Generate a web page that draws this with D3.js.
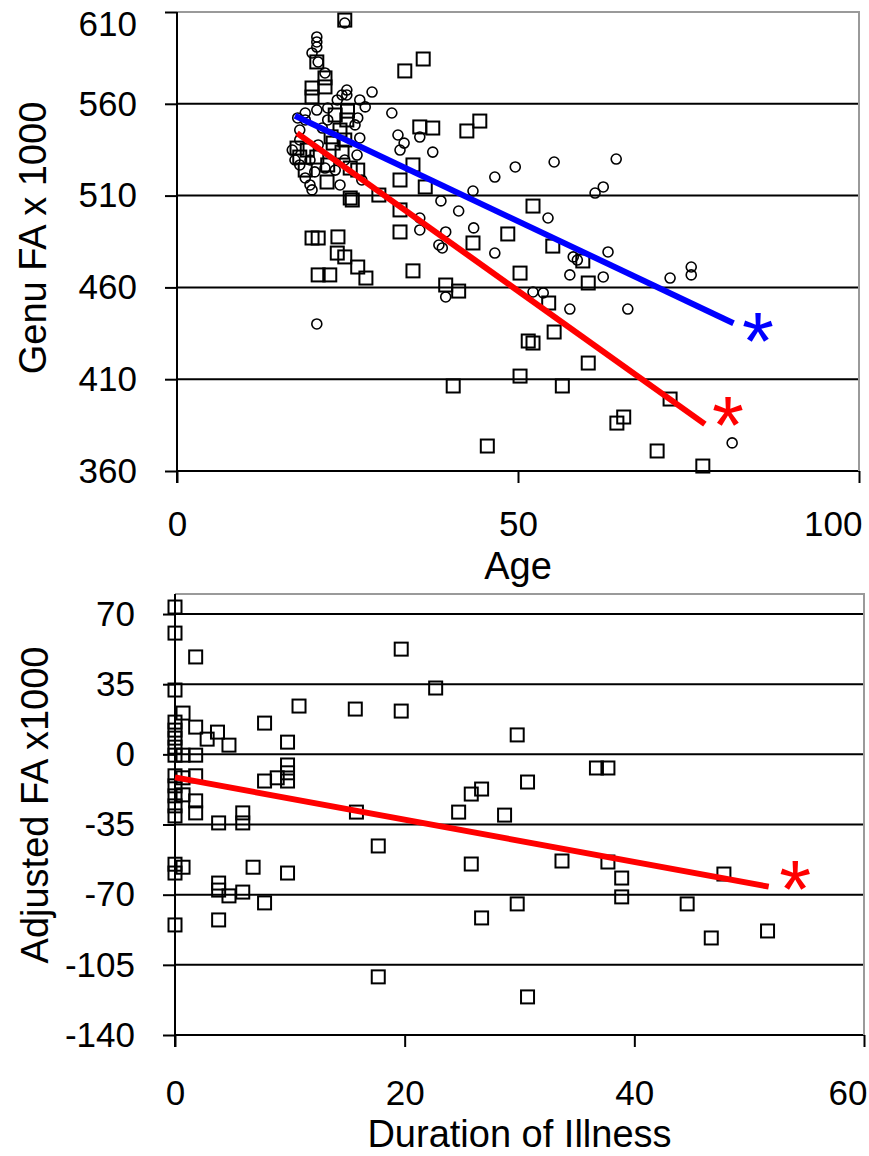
<!DOCTYPE html>
<html>
<head>
<meta charset="utf-8">
<script src="https://cdn.jsdelivr.net/npm/d3@7"></script>
<style>
  html, body { margin: 0; padding: 0; background: #fff; }
  svg text { font-family: "Liberation Sans", Arial, sans-serif; fill: #000; }
</style>
</head>
<body>
<svg id="chart" width="869" height="1156"></svg>
<script>
// ---------- DATA ----------
// Top panel: Genu FA x 1000 vs Age
const topXTicks = [0, 50, 100];
const topYTicks = [360, 410, 460, 510, 560, 610];

// group A (squares)
const sqAge = [24.6,20.5,33.4,36.1,19.8,19.8,21.7,21.7,35.6,37.5,42.5,44.4,34.6,32.7,36.4,29.6,25.4,26.5,52.2,32.7,
  32.7,48.5,43.4,55.1,19.8,20.7,23.6,23.5,24.6,26.5,27.7,20.7,22.4,34.6,39.4,41.3,50.3,54.5,55.3,51.5,
  52.2,50.3,40.5,56.5,45.5,59.5,60.3,60.3,72.3,64.5,65.5,70.4,77.1,19.1,20.5,22.9,24.2,22.0,25.7,24.9,
  23.9,23.2,24.6,18.0,17.6,22.1,25.4,18.8,25.0,22.6];
const sqFA = [605.6,582.8,577.9,584.4,568.6,563.7,574.1,569.2,547.4,546.8,545.2,550.6,526.7,518.5,514.7,510.3,508.7,523.9,504.3,502.2,
  490.2,489.1,484.2,482.5,486.9,486.9,487.5,478.7,476.6,471.1,465.1,466.8,466.8,469.0,461.3,458.0,467.8,451.5,435.7,430.8,
  429.7,411.7,406.3,406.3,373.6,474.4,462.4,418.8,399.2,386.1,389.4,370.9,362.7,534.8,531.0,538.6,533.7,517.4,507.6,551.2,
  545.7,553.9,540.3,531.0,535.9,526.7,525.0,523.9,556.0,542.0];

// group B (diamonds)
const dmAge = [20.5,20.5,20.5,19.8,20.7,21.7,24.6,24.9,24.9,28.6,27.6,31.5,18.8,20.5,22.1,32.4,33.3,32.7,35.6,37.5,
  26.8,46.6,49.6,55.3,64.4,62.5,61.3,43.4,38.7,41.3,35.6,35.6,39.4,43.5,38.4,38.9,46.6,54.4,20.5,39.4,
  52.2,53.7,57.6,57.6,58.1,58.7,63.2,62.5,72.3,75.4,75.4,66.1,81.4,19.8,16.9,17.3,18.0,18.8,19.5,18.0,
  20.7,21.7,20.2,23.2,23.9,22.1,26.1,26.5,21.3,24.6,26.4,19.5,18.8,27.1,23.5,24.2,26.8,18.0,17.7];
const dmFA = [596.4,593.7,590.9,587.7,582.8,576.8,604.0,567.5,564.8,566.4,558.3,555.0,555.0,556.6,557.7,543.0,538.6,534.8,541.9,533.7,
  541.4,520.1,525.6,528.3,529.9,514.7,511.4,512.5,507.1,501.6,497.8,491.3,490.2,492.4,483.1,481.5,478.7,497.8,440.1,454.8,
  457.5,457.0,448.2,466.8,476.6,474.9,479.3,465.7,465.1,471.1,466.8,448.2,375.3,513.1,534.8,529.4,526.7,519.6,515.8,540.3,
  537.6,525.0,522.9,523.9,515.8,551.2,548.5,552.3,546.8,529.4,532.1,529.4,551.2,518.5,562.1,564.8,562.1,545.7,552.3];

// regression lines (endpoints) and significance marks
const lineA = [[17.6, 544.0], [77.4, 385.5]];
const lineB = [[17.3, 553.5], [81.6, 440.5]];
const starsTop = [[85.2, 436.5, "blue"], [80.8, 390.5, "red"]];

// Bottom panel: Adjusted FA x1000 vs Duration of Illness
const botXTicks = [0, 20, 40, 60];
const botYTicks = [70, 35, 0, -35, -70, -105, -140];

const durAll = [0,0,1.8,0,0.7,0,0,0,0,0,1.8,2.8,3.7,4.7,0.7,1.8,7.8,10.8,15.7,19.7,
  19.7,9.8,0,0,0,0,0,0.7,0.7,1.8,1.8,1.8,3.8,5.9,5.9,7.8,8.9,9.8,9.8,9.8,
  15.8,17.7,0,0,0.7,6.8,9.8,3.8,3.8,4.7,5.9,7.8,0,3.8,17.7,22.7,29.8,36.7,37.7,30.7,
  26.7,25.8,24.7,28.7,25.8,33.7,37.7,38.9,38.9,29.8,26.7,44.6,47.8,46.7,51.6,30.7];
const adjAll = [73.5,60.5,48.6,32.1,20.6,16.1,12.1,8.1,3.6,-0.4,13.6,7.6,11.1,4.6,-0.4,-0.4,15.6,24.1,22.6,21.6,
  52.5,6.1,-10.7,-15.7,-20.7,-25.7,-30.7,-11.7,-20.2,-10.7,-23.2,-29.2,-34.2,-29.2,-34.2,-13.3,-11.7,-5.3,-9.2,-13.3,
  -28.8,-45.7,-54.8,-59.2,-56.3,-56.3,-59.2,-64.2,-67.7,-70.6,-68.7,-74.1,-85.1,-82.6,-111.0,33.1,9.7,-6.8,-6.8,-13.8,
  -17.3,-19.8,-28.8,-30.3,-54.7,-53.2,-53.7,-61.7,-71.1,-74.6,-81.6,-74.6,-59.7,-91.6,-88.1,-121.0];
const lineBot = [[0, -11.5], [51.7, -66.0]];
const starsBot = [[54.0, -62.0, "red"]];

// ---------- DRAWING ----------
const svg = d3.select("#chart");
const FONT = 35, TITLE = 38;
const BLUE = "#0000ff", RED = "#ff0000", BORDER = "#9a9a9a";

function panel(cfg) {
  const g = svg.append("g");
  const x = d3.scaleLinear().domain(cfg.xDomain).range(cfg.xRange);
  const y = d3.scaleLinear().domain(cfg.yDomain).range(cfg.yRange);
  const [x0, x1] = cfg.xRange;
  const yBottom = y(d3.min(cfg.yTicks));
  const yTop = cfg.yRange[1];

  // gridlines
  g.append("g").selectAll("line").data(cfg.yTicks.filter(d => y(d) > yTop + 1))
    .join("line")
    .attr("x1", x0).attr("x2", x1)
    .attr("y1", d => y(d)).attr("y2", d => y(d))
    .attr("stroke", "#000").attr("stroke-width", 2);

  // border top/right
  g.append("path")
    .attr("d", `M${x0},${yTop}H${x1}V${yBottom}`)
    .attr("fill", "none").attr("stroke", BORDER).attr("stroke-width", 2);

  // left axis
  const ya = g.append("g").attr("transform", `translate(${x0},0)`)
    .call(d3.axisLeft(y).tickValues(cfg.yTicks).tickSize(12).tickPadding(28).tickFormat(d => String(d)));
  ya.select(".domain").remove();
  ya.append("line").attr("x1", 0).attr("x2", 0).attr("y1", yTop).attr("y2", yBottom + 12)
    .attr("stroke", "#000").attr("stroke-width", 2);
  ya.selectAll(".tick line").attr("stroke", "#000").attr("stroke-width", 2);
  ya.selectAll(".tick text").style("font-size", FONT + "px").attr("fill", "#000")
    .style("font-family", '"Liberation Sans", Arial, sans-serif');
  // keep a label at the very top edge inside the picture
  ya.selectAll(".tick text").filter(d => y(d) < 20).attr("y", 12);

  // bottom axis
  const xa = g.append("g").attr("transform", `translate(0,${yBottom})`)
    .call(d3.axisBottom(x).tickValues(cfg.xTicks).tickSize(12).tickPadding(cfg.xPad).tickFormat(d => String(d)));
  xa.select(".domain").remove();
  xa.selectAll(".tick line").attr("stroke", "#000").attr("stroke-width", 2);
  xa.selectAll(".tick text").style("font-size", FONT + "px").attr("fill", "#000")
    .style("font-family", '"Liberation Sans", Arial, sans-serif');
  xa.selectAll(".tick text").filter((d, i, n) => i === n.length - 1)
    .attr("text-anchor", "end").attr("x", 3);

  // titles
  g.append("text").attr("x", (x0 + x1) / 2).attr("y", cfg.xTitleY)
    .attr("text-anchor", "middle").style("font-size", TITLE + "px").text(cfg.xTitle);
  g.append("text").attr("transform", `translate(${cfg.yTitleX},${cfg.yTitleC}) rotate(-90)`)
    .attr("text-anchor", "middle").style("font-size", TITLE + "px").text(cfg.yTitle);

  return { g, x, y };
}

// top panel
const P1 = panel({
  xDomain: [0, 100], xRange: [177, 859],
  yDomain: [360, 610], yRange: [471, 12],
  xTicks: topXTicks, yTicks: topYTicks, xPad: 28,
  xTitle: "Age", xTitleY: 579,
  yTitle: "Genu FA x 1000", yTitleX: 46, yTitleC: 238
});

// diamonds
P1.g.append("g").selectAll("circle").data(d3.range(dmAge.length)).join("circle")
  .attr("cx", i => P1.x(dmAge[i])).attr("cy", i => P1.y(dmFA[i])).attr("r", 5)
  .attr("fill", "none").attr("stroke", "#000").attr("stroke-width", 1.6);
// squares
P1.g.append("g").selectAll("rect").data(d3.range(sqAge.length)).join("rect")
  .attr("x", i => P1.x(sqAge[i]) - 6.5).attr("y", i => P1.y(sqFA[i]) - 6.5)
  .attr("width", 13).attr("height", 13)
  .attr("fill", "none").attr("stroke", "#000").attr("stroke-width", 2);

const line1 = d3.line().x(d => P1.x(d[0])).y(d => P1.y(d[1]));
P1.g.append("path").attr("d", line1(lineB)).attr("stroke", BLUE).attr("stroke-width", 6).attr("fill", "none");
P1.g.append("path").attr("d", line1(lineA)).attr("stroke", RED).attr("stroke-width", 6).attr("fill", "none");

function stars(P, data) {
  P.g.append("g").selectAll("text").data(data).join("text")
    .attr("x", d => P.x(d[0])).attr("y", d => P.y(d[1]) + 38)
    .attr("text-anchor", "middle")
    .style("font-size", "82px")
    .style("fill", d => d[2] === "blue" ? BLUE : RED)
    .text("*");
}
stars(P1, starsTop);

// bottom panel
const P2 = panel({
  xDomain: [0, 60], xRange: [175, 864],
  yDomain: [-140, 80], yRange: [1035, 594],
  xTicks: botXTicks, yTicks: botYTicks, xPad: 33,
  xTitle: "Duration of Illness", xTitleY: 1147,
  yTitle: "Adjusted FA x1000", yTitleX: 48, yTitleC: 805
});

P2.g.append("g").selectAll("rect").data(d3.range(durAll.length)).join("rect")
  .attr("x", i => P2.x(durAll[i]) - 6.5).attr("y", i => P2.y(adjAll[i]) - 6.5)
  .attr("width", 13).attr("height", 13)
  .attr("fill", "none").attr("stroke", "#000").attr("stroke-width", 2);

const line2 = d3.line().x(d => P2.x(d[0])).y(d => P2.y(d[1]));
P2.g.append("path").attr("d", line2(lineBot)).attr("stroke", RED).attr("stroke-width", 6).attr("fill", "none");
stars(P2, starsBot);
</script>
</body>
</html>
